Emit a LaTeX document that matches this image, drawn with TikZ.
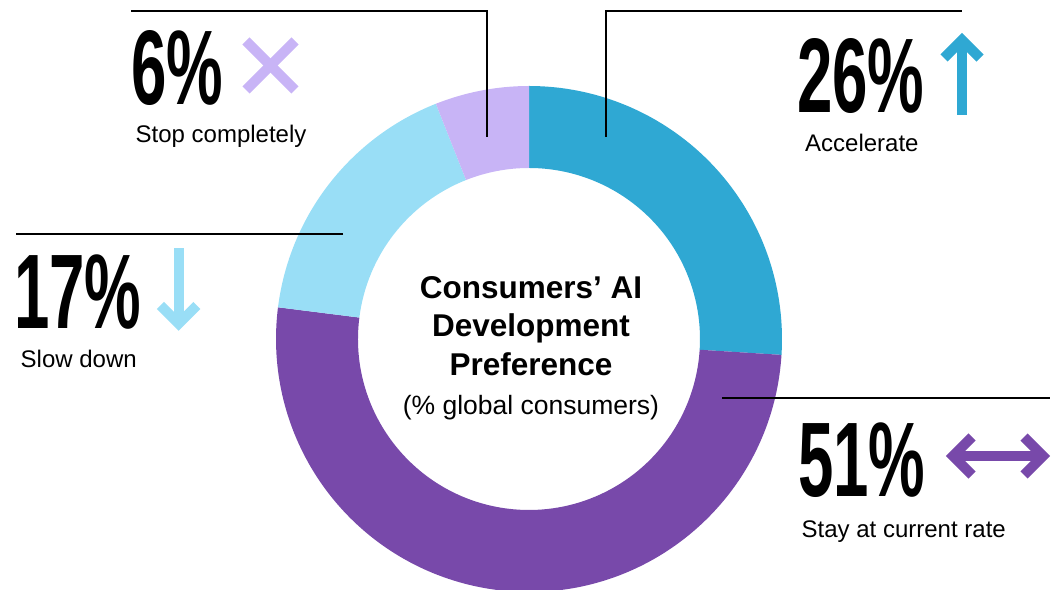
\documentclass[tikz,border=0pt]{standalone}
\usepackage{fontspec}
\setmainfont{Liberation Sans}
\definecolor{accelblue}{RGB}{47,168,211}
\definecolor{stayviolet}{RGB}{120,73,170}
\definecolor{slowblue}{RGB}{153,222,246}
\definecolor{stoplilac}{RGB}{200,180,246}
\newcommand{\bignum}[1]{\scalebox{0.6}[1]{\fontsize{106}{106}\selectfont\bfseries #1}}

\begin{document}
\begin{tikzpicture}[x=1pt, y=1pt,
  leader/.style={line width=2.3pt, black},
  icon/.style={line width=10pt, line join=miter},
  lbl/.style={anchor=base west, inner sep=0pt, font=\fontsize{24}{28}\selectfont},
  num/.style={anchor=base west, inner sep=0pt}]
\useasboundingbox (0,0) rectangle (1060,589);
\coordinate (ctr) at (529,250);
\begin{scope}[shift={(ctr)}]
\fill[accelblue] (90:253) arc[start angle=90, end angle=-3.6, radius=253] -- (-3.6:171) arc[start angle=-3.6, end angle=90, radius=171] -- cycle;
\fill[stayviolet] (-3.6:253) arc[start angle=-3.6, end angle=-187.2, radius=253] -- (-187.2:171) arc[start angle=-187.2, end angle=-3.6, radius=171] -- cycle;
\fill[slowblue] (-187.2:253) arc[start angle=-187.2, end angle=-248.4, radius=253] -- (-248.4:171) arc[start angle=-248.4, end angle=-187.2, radius=171] -- cycle;
\fill[stoplilac] (-248.4:253) arc[start angle=-248.4, end angle=-270, radius=253] -- (-270:171) arc[start angle=-270, end angle=-248.4, radius=171] -- cycle;
\end{scope}
\node [anchor=base, align=center, inner sep=0pt, font=\fontsize{31.5}{38.5}\selectfont\bfseries] (title) at (531,213.5) {Consumers’ AI\\Development\\Preference};
\node [anchor=base, inner sep=0pt, font=\fontsize{26.5}{30}\selectfont] (subtitle) at (531,174) {(\% global consumers)};
\coordinate (stopin) at (487,452);
\coordinate (stopend) at (131,578);
\draw [leader] (stopin) |- (stopend);
\coordinate (accelin) at (606,452);
\coordinate (accelend) at (962,578);
\draw [leader] (accelin) |- (accelend);
\coordinate (slowin) at (343,355);
\coordinate (slowend) at (16,355);
\draw [leader] (slowin) -- (slowend);
\coordinate (stayin) at (722,191);
\coordinate (stayend) at (1050,191);
\draw [leader] (stayin) -- (stayend);
\node [num] (stopnum) at (131,484) {\bignum{6\%}};
\node [lbl] (stoplabel) at (135.5,446.3) {Stop completely};
\draw [icon, stoplilac] (246,548) -- (295,499);
\draw [icon, stoplilac] (246,499) -- (295,548);
\node [num] (accelnum) at (797,476) {\bignum{26\%}};
\node [lbl] (accellabel) at (805,437.3) {Accelerate};
\draw [icon, accelblue] (962,474) -- (962,545);
\draw [icon, accelblue] (944,531) -- (962,549) -- (980,531);
\node [num] (slownum) at (14,260.7) {\bignum{17\%}};
\node [lbl] (slowlabel) at (20.5,221.3) {Slow down};
\draw [icon, slowblue] (178.7,340.7) -- (178.7,269);
\draw [icon, slowblue] (160.5,283.5) -- (178.7,265.3) -- (196.9,283.5);
\node [num] (staynum) at (798,92.3) {\bignum{51\%}};
\node [lbl] (staylabel) at (801.5,51) {Stay at current rate};
\draw [icon, stayviolet] (955,133) -- (1041,133);
\draw [icon, stayviolet] (972,152) -- (953,133) -- (972,114);
\draw [icon, stayviolet] (1024,152) -- (1043,133) -- (1024,114);
\end{tikzpicture}
\end{document}
